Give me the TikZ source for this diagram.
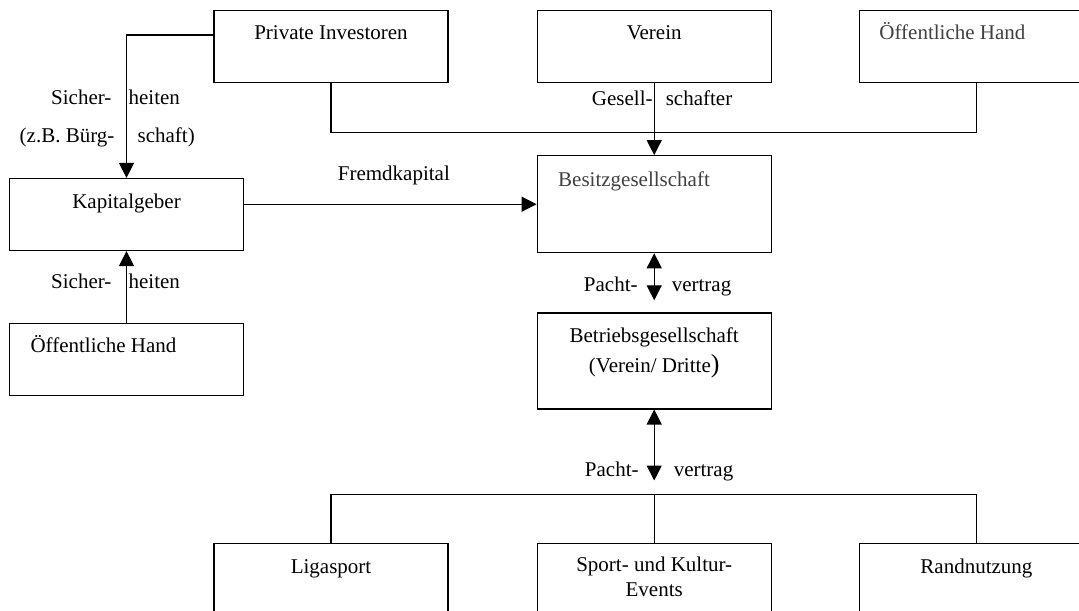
\documentclass[tikz,border=0pt]{standalone}
\usepackage{fontspec}
\setmainfont{Liberation Serif}
\usepackage{xcolor}
\usepackage{tikz}
\usetikzlibrary{arrows.meta,positioning}

\begin{document}
\begin{tikzpicture}[x=0.5pt,y=-0.5pt,
  >={Triangle[length=7.5pt,width=7.5pt]},
  line width=0.6pt
]

\tikzstyle{box}=[draw,rectangle,minimum width=117pt,minimum height=36pt,inner sep=0pt]
\tikzstyle{txt}=[inner sep=0pt,font=\fontsize{10.5}{12.6}\selectfont,text height=1.5ex,text depth=.25ex]
\tikzset{lbl/.style={txt}}
\tikzset{grey text/.style={txt,text=black!75}}
\tikzset{two lines/.style={align=center,inner sep=0pt}}

\useasboundingbox (0,0) rectangle (1079,610);

\node[box]                          (pi) at (331,46.5) {};
\node[box, right=44pt of pi]        (ve) {};
\node[box, right=43.5pt of ve]      (oh1) {};
\node[box]                          (kg) at (126.5,214.5) {};
\node[box, below=36pt of kg]        (oh2) {};
\node[box, minimum height=48.5pt, below=36pt of ve]   (bg) {};
\node[box, minimum height=48pt, below=29.5pt of bg]   (bb) {};
\node[box, minimum height=48pt, below=66.5pt of bb]   (se) {};
\node[box, minimum height=48pt, left=44pt of se]      (ls) {};
\node[box, minimum height=48pt, right=43.5pt of se]   (rn) {};

\node[txt] (pit) at ([yshift=-12pt]pi.north) {Private Investoren};
\node[txt] (vet) at ([yshift=-12pt]ve.north) {Verein};
\node[grey text, anchor=west] (oh1t) at ([xshift=10pt,yshift=-12pt]oh1.north west) {Öffentliche Hand};
\node[txt] (kgt) at ([yshift=-12.5pt]kg.north) {Kapitalgeber};
\node[grey text, anchor=west] (bgt) at ([xshift=10.5pt,yshift=-13pt]bg.north west) {Besitzgesellschaft};
\node[txt, anchor=west] (oh2t) at ([xshift=10.5pt,yshift=-12pt]oh2.north west) {Öffentliche Hand};
\node[two lines, font=\fontsize{10.5}{15}\selectfont, anchor=north] (bbt) at ([yshift=-7.5pt]bb.north)
  {Betriebsgesellschaft\\(Verein/ Dritte{\fontsize{13}{15}\selectfont)}};
\node[txt] (lst) at ([yshift=-12.5pt]ls.north) {Ligasport};
\node[two lines, font=\fontsize{10.5}{12.5}\selectfont, anchor=north] (set) at ([yshift=-7pt]se.north)
  {Sport- und Kultur-\\Events};
\node[txt] (rnt) at ([yshift=-12.5pt]rn.north) {Randnutzung};

\coordinate[below=24.5pt of ve.south] (jn);
\coordinate[above=24pt of se.north] (jn2);

\draw[->] ([yshift=5.75pt]pi.west) -| (kg.north)
  node[lbl, pos=.724, left=7.25pt] (s1) {Sicher-}
  node[lbl, pos=.724, right=.75pt] (s2) {heiten}
  node[lbl, pos=.857, left=5.75pt] (s3) {(z.B. Bürg-}
  node[lbl, pos=.857, right=5.25pt] (s4) {schaft)};
\draw[->] (oh2.north) -- (kg.south)
  node[lbl, pos=.556, left=7.25pt] (s5) {Sicher-}
  node[lbl, pos=.556, right=.75pt] (s6) {heiten};
\draw (pi.south) |- (jn) -| (oh1.south);
\draw[->] (ve.south) -- (bg.north)
  node[lbl, pos=.236, left=.5pt] (g1) {Gesell-}
  node[lbl, pos=.236, right=5.5pt] (g2) {schafter};
\draw[->] (kg.east |- bg.west) -- (bg.west)
  node[lbl, pos=.512, yshift=14.75pt] (fk) {Fremdkapital};
\draw[<->, shorten >=6pt] (bg.south) -- (bb.north)
  node[lbl, pos=.542, left=8pt] (p1) {Pacht-}
  node[lbl, pos=.542, right=8.5pt] (v1) {vertrag};
\draw[<->, shorten >=7pt] (bb.south) -- (jn2)
  node[lbl, pos=.718, left=7.5pt] (p2) {Pacht-}
  node[lbl, pos=.718, right=9.5pt] (v2) {vertrag};
\draw (ls.north) |- (jn2) -| (rn.north);
\draw (jn2) -- (se.north);

\end{tikzpicture}
\end{document}
